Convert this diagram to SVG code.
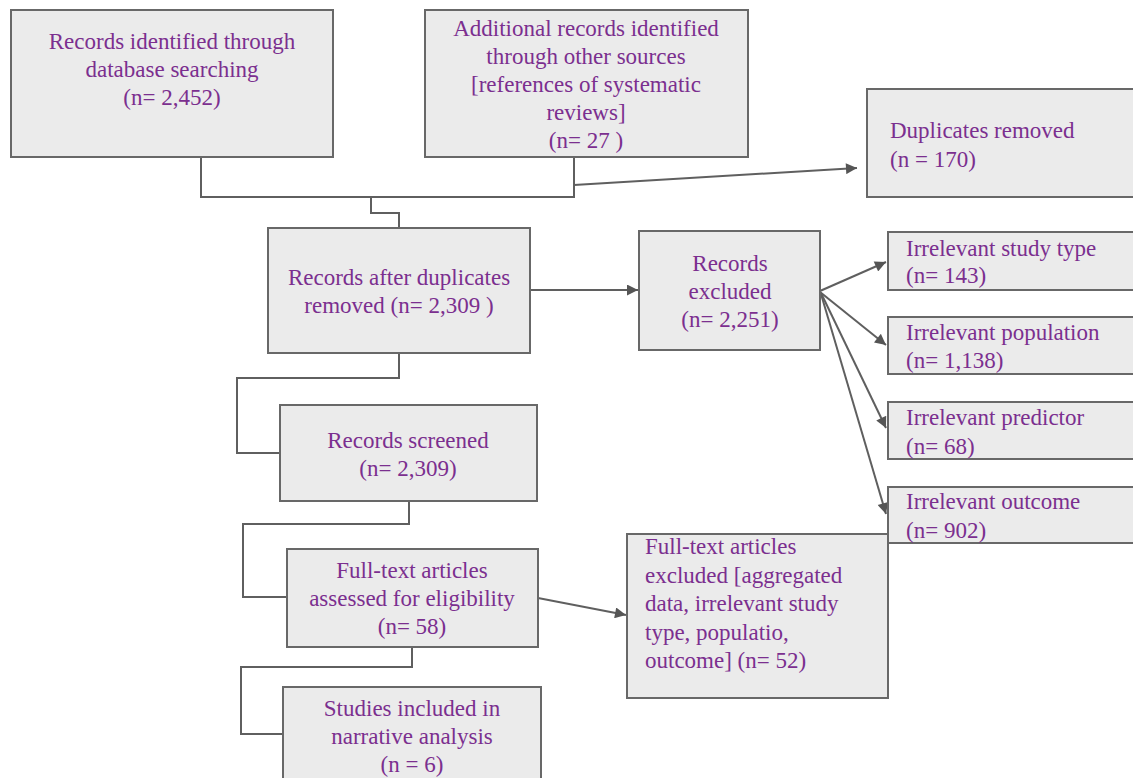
<svg xmlns="http://www.w3.org/2000/svg" width="1133" height="778" viewBox="0 0 1133 778">
<defs>
<style>
.box{fill:#ebebeb;stroke:#686868;stroke-width:2}
.ln{fill:none;stroke:#5f5f5f;stroke-width:2}
.t{font-family:'Liberation Serif','DejaVu Serif',serif;font-size:23px;fill:#7b2f8f}
.c{text-anchor:middle}
</style>
<marker id="ah" viewBox="0 0 10 10" refX="10" refY="5" markerWidth="15" markerHeight="11" markerUnits="userSpaceOnUse" orient="auto">
<path d="M0,0 L10,5 L0,10 z" fill="#555"/>
</marker>
</defs>
<rect width="1133" height="778" fill="#ffffff"/>
<g id="connectors">
<polyline class="ln" points="201,157 201,197 574,197 574,157"/>
<polyline class="ln" points="371,197 371,213 399,213 399,228"/>
<line class="ln" x1="574" y1="185" x2="857" y2="168" marker-end="url(#ah)"/>
<line class="ln" x1="530" y1="290" x2="638" y2="290" marker-end="url(#ah)"/>
<line class="ln" x1="820" y1="291" x2="886" y2="262" marker-end="url(#ah)"/>
<line class="ln" x1="820" y1="292" x2="886" y2="345" marker-end="url(#ah)"/>
<line class="ln" x1="821" y1="293" x2="886" y2="428" marker-end="url(#ah)"/>
<line class="ln" x1="821" y1="294" x2="886" y2="514" marker-end="url(#ah)"/>
<polyline class="ln" points="399,353 399,378 237,378 237,453 280,453"/>
<polyline class="ln" points="409,501 409,524 243,524 243,597 287,597"/>
<line class="ln" x1="538" y1="598" x2="626" y2="615" marker-end="url(#ah)"/>
<polyline class="ln" points="412,647 412,667 241,667 241,734 283,734"/>
</g>
<g id="n-db">
<rect class="box" x="11" y="10" width="322" height="147"/>
<text class="t c" x="172" y="49">Records identified through</text>
<text class="t c" x="172" y="77">database searching</text>
<text class="t c" x="172" y="105">(n= 2,452)</text>
</g>
<g id="n-other">
<rect class="box" x="425" y="10" width="323" height="147"/>
<text class="t c" x="586" y="36">Additional records identified</text>
<text class="t c" x="586" y="64">through other sources</text>
<text class="t c" x="586" y="92">[references of systematic</text>
<text class="t c" x="586" y="120">reviews]</text>
<text class="t c" x="586" y="148">(n= 27 )</text>
</g>
<g id="n-dup">
<rect class="box" x="867" y="89" width="280" height="108"/>
<text class="t" x="890" y="138">Duplicates removed</text>
<text class="t" x="890" y="167">(n = 170)</text>
</g>
<g id="n-after">
<rect class="box" x="268" y="228" width="262" height="125"/>
<text class="t c" x="399" y="285">Records after duplicates</text>
<text class="t c" x="399" y="313">removed (n= 2,309 )</text>
</g>
<g id="n-excl">
<rect class="box" x="639" y="231" width="181" height="119"/>
<text class="t c" x="730" y="271">Records</text>
<text class="t c" x="730" y="299">excluded</text>
<text class="t c" x="730" y="327">(n= 2,251)</text>
</g>
<g id="n-type">
<rect class="box" x="888" y="232" width="260" height="58"/>
<text class="t" x="906" y="256">Irrelevant study type</text>
<text class="t" x="906" y="283">(n= 143)</text>
</g>
<g id="n-pop">
<rect class="box" x="888" y="317" width="260" height="57"/>
<text class="t" x="906" y="340">Irrelevant population</text>
<text class="t" x="906" y="368">(n= 1,138)</text>
</g>
<g id="n-pred">
<rect class="box" x="888" y="402" width="260" height="57"/>
<text class="t" x="906" y="425">Irrelevant predictor</text>
<text class="t" x="906" y="454">(n= 68)</text>
</g>
<g id="n-screen">
<rect class="box" x="280" y="405" width="257" height="96"/>
<text class="t c" x="408" y="448">Records screened</text>
<text class="t c" x="408" y="476">(n= 2,309)</text>
</g>
<g id="n-ftx">
<rect class="box" x="627" y="534" width="261" height="164"/>
<text class="t" x="645" y="554">Full-text articles</text>
<text class="t" x="645" y="582.5">excluded [aggregated</text>
<text class="t" x="645" y="611">data, irrelevant study</text>
<text class="t" x="645" y="639.5">type, populatio,</text>
<text class="t" x="645" y="668">outcome] (n= 52)</text>
</g>
<g id="n-out">
<rect class="box" x="888" y="487" width="260" height="56"/>
<text class="t" x="906" y="509">Irrelevant outcome</text>
<text class="t" x="906" y="538">(n= 902)</text>
</g>
<g id="n-ft">
<rect class="box" x="287" y="549" width="251" height="98"/>
<text class="t c" x="412" y="578">Full-text articles</text>
<text class="t c" x="412" y="606">assessed for eligibility</text>
<text class="t c" x="412" y="634">(n= 58)</text>
</g>
<g id="n-inc">
<rect class="box" x="283" y="687" width="258" height="110"/>
<text class="t c" x="412" y="716">Studies included in</text>
<text class="t c" x="412" y="744">narrative analysis</text>
<text class="t c" x="412" y="772">(n = 6)</text>
</g>
</svg>
